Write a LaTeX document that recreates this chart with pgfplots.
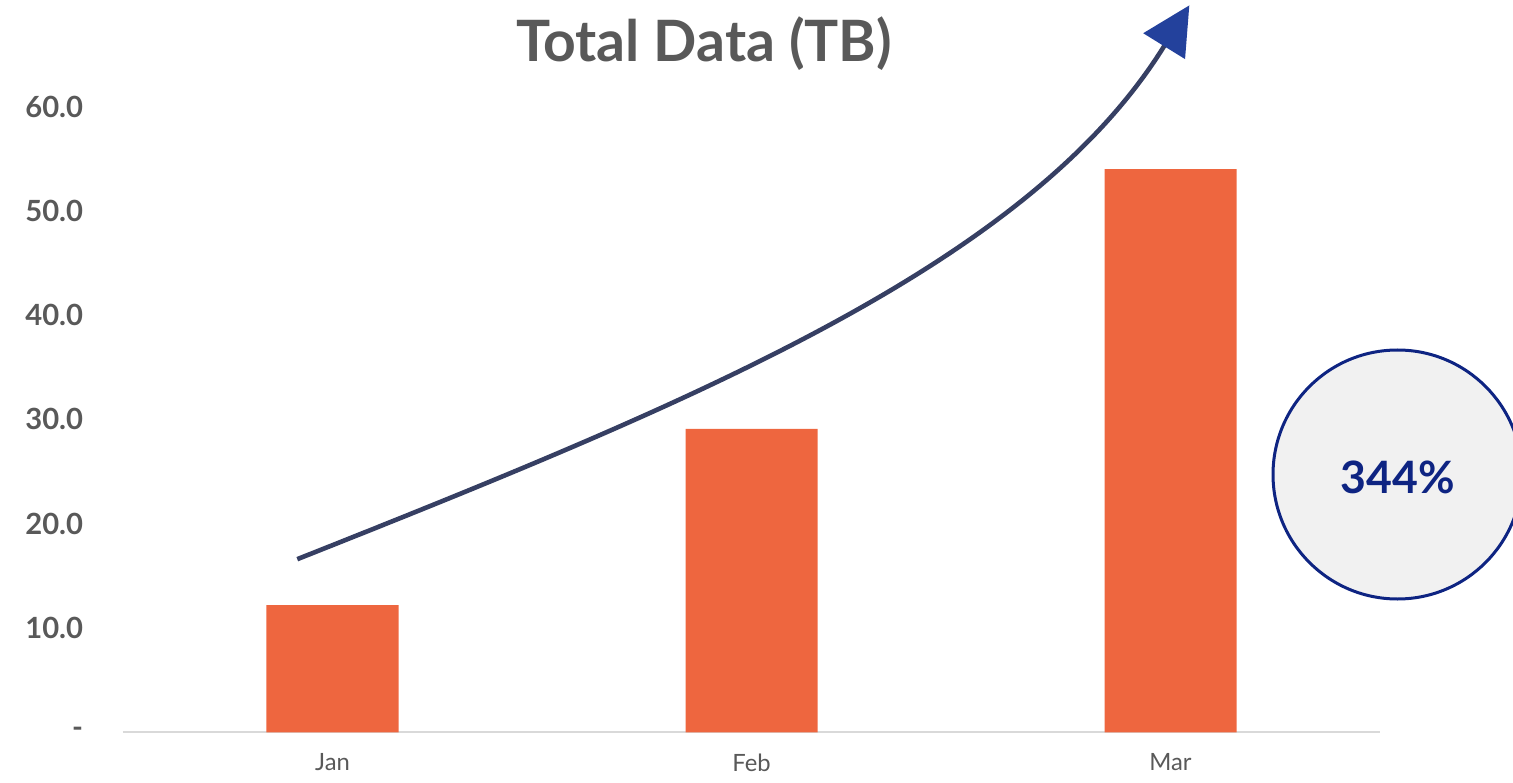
\documentclass[border=0pt]{standalone}
\usepackage{pgfplots}
\pgfplotsset{compat=1.18}
\usepackage{fontspec}
\setmainfont{Lato}
\usetikzlibrary{arrows.meta}
\definecolor{barc}{HTML}{EE663F}
\definecolor{txtgray}{HTML}{595959}
\definecolor{navy}{HTML}{0E2482}
\definecolor{arrowc}{HTML}{363F63}
\definecolor{headc}{HTML}{23419C}
\definecolor{circfill}{HTML}{F1F1F1}
\definecolor{axisgray}{HTML}{D9D9D9}
\begin{document}
\begin{tikzpicture}
\useasboundingbox (-61.5pt,-24.85pt) rectangle (695pt,366.15pt);
\begin{axis}[
  at={(0,0)}, anchor=south west,
  scale only axis, width=628.5pt, height=312.9pt,
  xmin=-0.5, xmax=2.5, ymin=0, ymax=60,
  clip=false,
  axis line style={draw=none},
  major tick length=0pt,
  tick style={draw=none},
  xtick={0,1,2}, xticklabels={Jan,Feb,Mar},
  ytick={0,10,20,30,40,50,60},
  yticklabels={{-\hspace{8pt}},10.0,20.0,30.0,40.0,50.0,60.0},
  xticklabel style={font=\fontsize{11.9}{13}\selectfont, text=txtgray, inner sep=0pt, anchor=north, yshift=-10.5pt},
  yticklabel style={font=\bfseries\fontsize{14.6}{16}\selectfont, text=txtgray, inner sep=0pt, anchor=east, xshift=-19.75pt},
]
\draw[axisgray, line width=1pt] (axis cs:-0.5,0) -- (axis cs:2.5,0);
\addplot[ybar, bar width=66pt, fill=barc, draw=none] coordinates {(0,12.2) (1,29.1) (2,54.0)};
\draw[arrowc, line width=2.3pt, -{Triangle[length=24pt,width=24pt,color=headc]}]
  (axis cs:-0.084,16.6) .. controls (axis cs:0.876,31.9) and (axis cs:1.665,45.0) .. (axis cs:2.045,69.7);
\end{axis}
\node[font=\bfseries\fontsize{28.5}{32}\selectfont, text=txtgray, anchor=base] at (290.5pt,335.15pt) {Total Data (TB)};
\draw[navy, line width=1.5pt, fill=circfill] (637.25pt,128.9pt) circle (62.25pt);
\node[font=\bfseries\fontsize{22.3}{26}\selectfont, text=navy] at (637.25pt,127.6pt) {344\%};
\end{tikzpicture}
\end{document}
